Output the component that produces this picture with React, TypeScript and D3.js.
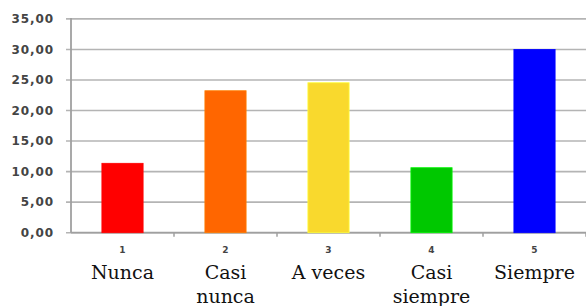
import React from 'react';
import * as d3 from 'd3';

const codes = ['1', '2', '3', '4', '5'];
const labels = [['Nunca'], ['Casi', 'nunca'], ['A veces'], ['Casi', 'siempre'], ['Siempre']];
const values = [11.36, 23.24, 24.55, 10.64, 30.0];
const colors = ['#ff0000', '#ff6600', '#f9d92d', '#00c800', '#0000ff'];
const yTicks = [0, 5, 10, 15, 20, 25, 30, 35];

const W = 586;
const H = 306;

function App() {
  const x = d3.scaleBand<string>()
    .domain(codes)
    .range([71, 586])
    .paddingInner(0.6)
    .paddingOuter(0.3);
  const y = d3.scaleLinear().domain([0, 35]).range([232.7, 18.9]);
  const step = x.step();
  const fmt = (v: number) => v.toFixed(2).replace('.', ',');

  return (
    <svg width={W} height={H} style={{ position: 'absolute', left: 0, top: 0, background: '#fff' }}>
      {/* grid lines + y labels */}
      {yTicks.map((t) => (
        <g key={t}>
          <line x1={66} x2={586} y1={y(t)} y2={y(t)} stroke="#b4b4b4" strokeWidth={1.6} />
          <text x={54} y={y(t)} dy="0.36em" textAnchor="end"
            fontFamily="DejaVu Sans" fontWeight="bold" fontSize={12} letterSpacing={0.9} fill="#444">
            {fmt(t)}
          </text>
        </g>
      ))}
      <line x1={71} x2={71} y1={y(35) - 1} y2={y(0)} stroke="#a0a0a0" strokeWidth={1.8} />
      <line x1={71} x2={586} y1={y(0)} y2={y(0)} stroke="#a0a0a0" strokeWidth={1.8} />
      {codes.map((c, i) => (
        <line key={'t' + c} x1={71 + step * (i + 1)} x2={71 + step * (i + 1)} y1={y(0)} y2={y(0) + 4}
          stroke="#a0a0a0" strokeWidth={1.5} />
      ))}
      {/* bars */}
      {codes.map((c, i) => (
        <rect key={c} x={x(c)} y={y(values[i])} width={x.bandwidth()} height={y(0) - y(values[i])}
          fill={colors[i]} stroke={d3.color(colors[i])!.brighter(0.6).toString()} strokeWidth={0.8} />
      ))}
      {/* category codes and labels */}
      {codes.map((c, i) => {
        const cx = (x(c) as number) + x.bandwidth() / 2;
        return (
          <g key={'l' + c}>
            <text x={cx} y={250} dy="0.36em" textAnchor="middle" fontFamily="DejaVu Sans"
              fontWeight="bold" fontSize={9} fill="#444">{c}</text>
            {labels[i].map((s, j) => (
              <text key={j} x={cx} y={272 + j * 24} dy="0.36em" textAnchor="middle"
                fontFamily="DejaVu Serif" fontSize={19} fill="#111">{s}</text>
            ))}
          </g>
        );
      })}
    </svg>
  );
}

export default App;
